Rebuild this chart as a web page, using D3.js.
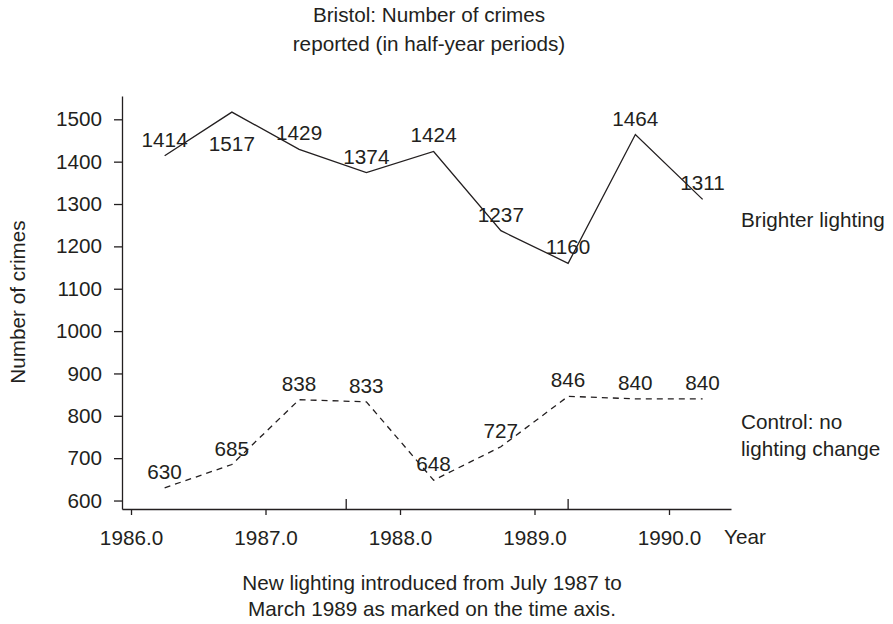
<!DOCTYPE html>
<html>
<head>
<meta charset="utf-8">
<script src="https://cdn.jsdelivr.net/npm/d3@7"></script>
<style>
  html, body { margin: 0; padding: 0; background: #fff; }
  svg { display: block; }
  text { font-family: "Liberation Sans", Arial, Helvetica, sans-serif; fill: #231f20; }
</style>
</head>
<body>
<svg id="chart" width="893" height="624"></svg>
<script>
// ---- data ----
const periods = [1986.25, 1986.75, 1987.25, 1987.75, 1988.25, 1988.75, 1989.25, 1989.75, 1990.25];
const brighter = [1414, 1517, 1429, 1374, 1424, 1237, 1160, 1464, 1311];
const control = [630, 685, 838, 833, 648, 727, 846, 840, 840];
const brighterLabelSide = ["above", "below", "above", "above", "above", "above", "above", "above", "above"];
const controlLabelSide = ["above", "above", "above", "above", "above", "above", "above", "above", "above"];
const xTicks = [1986, 1987, 1988, 1989, 1990];
const yTicks = [600, 700, 800, 900, 1000, 1100, 1200, 1300, 1400, 1500];
const interventionMarks = [1987.6, 1989.25];
const titleLines = ["Bristol: Number of crimes", "reported (in half-year periods)"];
const footLines = ["New lighting introduced from July 1987 to", "March 1989 as marked on the time axis."];
const brighterName = ["Brighter lighting"];
const controlName = ["Control: no", "lighting change"];

// ---- layout ----
const svg = d3.select("#chart");
const ink = "#231f20";
const fs = 20.7;

const x = d3.scaleLinear().domain([1985.933, 1990.461]).range([122, 731]);
const y = d3.scaleLinear().domain([580, 1555]).range([509, 96]);

// title
svg.append("text").attr("x", 429).attr("y", 22).attr("text-anchor", "middle")
  .style("font-size", fs + "px")
  .selectAll("tspan").data(titleLines).join("tspan")
  .attr("x", 429).attr("dy", (d, i) => i === 0 ? 0 : 29).text(d => d);

// y axis
const yAxis = svg.append("g").attr("transform", "translate(122,0)")
  .call(d3.axisLeft(y).tickValues(yTicks).tickFormat(d3.format("d")).tickSize(8).tickSizeOuter(0).tickPadding(12));
// x axis
const xAxis = svg.append("g").attr("transform", "translate(0,509)")
  .call(d3.axisBottom(x).tickValues(xTicks).tickFormat(d3.format(".1f")).tickSize(6).tickSizeOuter(0).tickPadding(15));

[yAxis, xAxis].forEach(g => {
  g.select(".domain").attr("stroke", ink).attr("stroke-width", 1.3);
  g.selectAll(".tick line").attr("stroke", ink).attr("stroke-width", 1.3);
  g.selectAll(".tick text").style("font-size", fs + "px").attr("fill", ink)
    .style("font-family", '"Liberation Sans", Arial, Helvetica, sans-serif');
});

// intervention marks (upward ticks)
svg.append("g").selectAll("line").data(interventionMarks).join("line")
  .attr("x1", d => x(d)).attr("x2", d => x(d))
  .attr("y1", 509).attr("y2", 499)
  .attr("stroke", ink).attr("stroke-width", 1.3);

// "Year"
svg.append("text").attr("x", 724).attr("y", 544).style("font-size", fs + "px").text("Year");

// y axis title
svg.append("text").attr("transform", "translate(25,302) rotate(-90)")
  .attr("text-anchor", "middle").style("font-size", fs + "px").text("Number of crimes");

// lines
const line = d3.line().x((d, i) => x(periods[i])).y(d => y(d));
svg.append("path").datum(brighter).attr("d", line)
  .attr("fill", "none").attr("stroke", ink).attr("stroke-width", 1.3);
svg.append("path").datum(control).attr("d", line)
  .attr("fill", "none").attr("stroke", ink).attr("stroke-width", 1.3)
  .attr("stroke-dasharray", "6,5");

// value labels
function labels(values, sides) {
  svg.append("g").selectAll("text").data(values).join("text")
    .attr("x", (d, i) => x(periods[i]))
    .attr("y", (d, i) => y(d) + (sides[i] === "below" ? 39 : -9))
    .attr("text-anchor", "middle")
    .style("font-size", fs + "px")
    .text(d => d);
}
labels(brighter, brighterLabelSide);
labels(control, controlLabelSide);

// series names
svg.append("text").attr("x", 741).attr("y", 227).style("font-size", fs + "px")
  .selectAll("tspan").data(brighterName).join("tspan")
  .attr("x", 741).attr("dy", (d, i) => i === 0 ? 0 : 27).text(d => d);
svg.append("text").attr("x", 741).attr("y", 429).style("font-size", fs + "px")
  .selectAll("tspan").data(controlName).join("tspan")
  .attr("x", 741).attr("dy", (d, i) => i === 0 ? 0 : 27).text(d => d);

// footnote
svg.append("text").attr("x", 432).attr("y", 590).attr("text-anchor", "middle")
  .style("font-size", fs + "px")
  .selectAll("tspan").data(footLines).join("tspan")
  .attr("x", 432).attr("dy", (d, i) => i === 0 ? 0 : 26).text(d => d);
</script>
</body>
</html>
